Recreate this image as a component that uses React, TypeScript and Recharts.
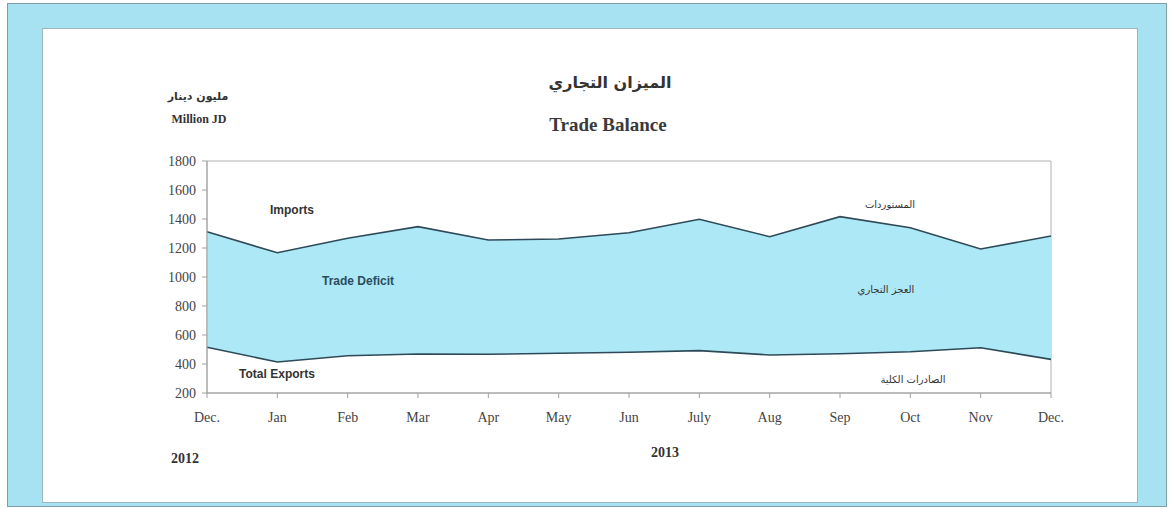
import React from 'react';
import { ComposedChart, Area, Line, XAxis, YAxis, ReferenceArea } from 'recharts';

const months = ['Dec.', 'Jan', 'Feb', 'Mar', 'Apr', 'May', 'Jun', 'July', 'Aug', 'Sep', 'Oct', 'Nov', 'Dec.'];
const imports = [1312, 1167, 1267, 1347, 1255, 1262, 1305, 1398, 1278, 1416, 1340, 1193, 1283];
const exports = [515, 414, 457, 469, 467, 474, 481, 492, 462, 471, 485, 512, 432];
const yTicks = [200, 400, 600, 800, 1000, 1200, 1400, 1600, 1800];

const data = months.map((m, i) => ({
  i,
  imports: imports[i],
  exports: exports[i],
  band: [exports[i], imports[i]],
}));

const serif = '"Liberation Serif", "DejaVu Serif", serif';
const sans = '"Liberation Sans", Arial, sans-serif';
const arabic = '"DejaVu Sans", "Noto Sans", sans-serif';
const lineColor = '#2e4a58';

const abs = (x: number, y: number, extra: React.CSSProperties = {}): React.CSSProperties => ({
  position: 'absolute',
  left: x,
  top: y,
  transform: 'translate(-50%, -50%)',
  whiteSpace: 'nowrap',
  ...extra,
});

export default function App() {
  return (
    <div style={{ position: 'absolute', left: 0, top: 0, width: 1171, height: 509, background: '#ffffff', overflow: 'hidden' }}>
      <div style={{ position: 'absolute', left: 7, top: 3, width: 1160, height: 504, background: '#a6e2f1', border: '1px solid #7f9ea8', boxSizing: 'border-box' }} />
      <div style={{ position: 'absolute', left: 42, top: 28, width: 1096, height: 475, background: '#ffffff', border: '1px solid #9fb5bc', boxSizing: 'border-box' }} />

      <div style={{ position: 'absolute', left: 0, top: 0 }}>
        <ComposedChart width={1171} height={509} data={data} margin={{ top: 161, right: 120, bottom: 86, left: 147 }}>
          <XAxis
            dataKey="i"
            type="number"
            domain={[0, 12]}
            ticks={months.map((_, i) => i)}
            tickFormatter={(v: number) => months[v]}
            interval={0}
            height={30}
            stroke="#a0a0a0"
            tickSize={5}
            tick={{ fill: '#444', fontFamily: serif, fontSize: 14, dy: 12 }}
          />
          <YAxis
            type="number"
            domain={[200, 1800]}
            ticks={yTicks}
            interval={0}
            width={60}
            stroke="#a0a0a0"
            tickSize={5}
            tick={{ fill: '#444', fontFamily: serif, fontSize: 14, dx: -4 }}
          />
          <ReferenceArea x1={0} x2={12} y1={200} y2={1800} fill="none" stroke="#b0b0b0" strokeWidth={1} />
          <Area dataKey="band" type="linear" fill="#ade8f6" fillOpacity={1} stroke="none" isAnimationActive={false} />
          <Line dataKey="imports" type="linear" stroke={lineColor} strokeWidth={1.6} dot={false} isAnimationActive={false} />
          <Line dataKey="exports" type="linear" stroke={lineColor} strokeWidth={1.6} dot={false} isAnimationActive={false} />
        </ComposedChart>
      </div>

      <div style={abs(610, 82, { fontFamily: arabic, fontWeight: 'bold', fontSize: 16, color: '#333' })} dir="rtl">الميزان التجاري</div>
      <div style={abs(608, 125, { fontFamily: serif, fontWeight: 'bold', fontSize: 19, color: '#3a3a3a' })}>Trade Balance</div>
      <div style={abs(198, 96, { fontFamily: arabic, fontWeight: 'bold', fontSize: 11, color: '#333' })} dir="rtl">مليون دينار</div>
      <div style={abs(199, 119, { fontFamily: serif, fontWeight: 'bold', fontSize: 12, color: '#333' })}>Million JD</div>

      <div style={abs(292, 210, { fontFamily: sans, fontWeight: 'bold', fontSize: 12, color: '#333' })}>Imports</div>
      <div style={abs(358, 281, { fontFamily: sans, fontWeight: 'bold', fontSize: 12, color: '#2a4d5e' })}>Trade Deficit</div>
      <div style={abs(277, 374, { fontFamily: sans, fontWeight: 'bold', fontSize: 12, color: '#333' })}>Total Exports</div>

      <div style={abs(890, 204, { fontFamily: arabic, fontSize: 10, color: '#333' })} dir="rtl">المستوردات</div>
      <div style={abs(886, 289, { fontFamily: arabic, fontSize: 10, color: '#333' })} dir="rtl">العجز التجاري</div>
      <div style={abs(913, 379, { fontFamily: arabic, fontSize: 10, color: '#333' })} dir="rtl">الصادرات الكلية</div>

      <div style={abs(185, 459, { fontFamily: serif, fontWeight: 'bold', fontSize: 14, color: '#333' })}>2012</div>
      <div style={abs(665, 453, { fontFamily: serif, fontWeight: 'bold', fontSize: 14, color: '#333' })}>2013</div>
    </div>
  );
}
